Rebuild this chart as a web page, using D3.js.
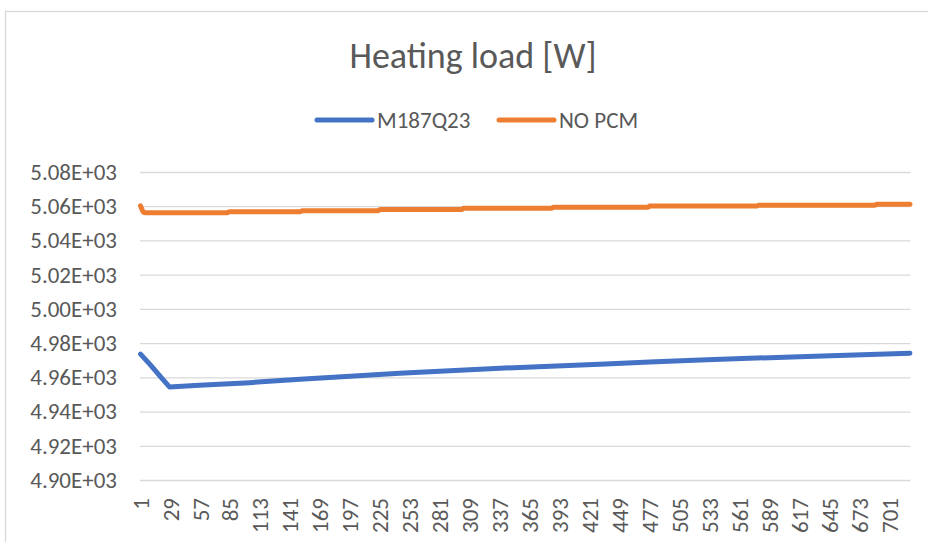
<!DOCTYPE html>
<html>
<head>
<meta charset="utf-8">
<script src="https://cdn.jsdelivr.net/npm/d3@7"></script>
<style>
  body { margin: 0; background: #fff; }
  text { font-family: Calibri, Carlito, Lato, sans-serif; fill: #595959; }
</style>
</head>
<body>
<div id="chart"></div>
<script>
// categories 1..720 (hours)
var nCategories = 720;
var xTickLabels = d3.range(1, 721, 28);   // 1, 29, 57, ... 701
var yTicks = [4900, 4920, 4940, 4960, 4980, 5000, 5020, 5040, 5060, 5080];

// M187Q23 at sample hours
var m187Hours  = [1, 10, 20, 28, 56, 103, 150, 197, 243, 290, 337, 384, 430, 477, 524, 570, 617, 668, 720];
var m187Values = [4973.6, 4967.4, 4960.1, 4954.4, 4955.4, 4956.9, 4958.9, 4960.7, 4962.4, 4963.9,
                  4965.3, 4966.5, 4967.6, 4968.9, 4970.1, 4971.1, 4972.1, 4973.1, 4974.1];

// NO PCM is a staircase
var noPcmHours  = [1, 2, 3, 4, 5, 82, 84, 150, 152, 223, 225, 301, 303, 385, 387, 475, 477, 577, 579, 687, 689, 720];
var noPcmValues = [5060.2, 5058.6, 5057.2, 5056.4, 5056.2, 5056.2, 5056.8, 5056.8, 5057.4, 5057.4, 5058.1,
                   5058.1, 5058.8, 5058.8, 5059.4, 5059.4, 5060.1, 5060.1, 5060.6, 5060.6, 5061.1, 5061.1];

var seriesNames = ['M187Q23', 'NO PCM'];
var seriesColors = ['#4472C4', '#ED7D31'];

var W = 928, H = 542;
var plot = { left: 140, right: 910.5, top: 172, bottom: 480 };
var labelSize = 23;

var svg = d3.select('#chart').append('svg')
    .attr('width', W)
    .attr('height', H);

// chart area border
svg.append('rect')
    .attr('x', 5.5).attr('y', 11.5)
    .attr('width', 960).attr('height', 600)
    .attr('fill', '#fff')
    .attr('stroke', '#d9d9d9')
    .attr('stroke-width', 1.3);

var x = d3.scaleBand()
    .domain(d3.range(1, nCategories + 1))
    .range([plot.left, plot.right])
    .padding(0);
var xc = function(d) { return x(d) + x.bandwidth() / 2; };

var y = d3.scaleLinear()
    .domain([4900, 5080])
    .range([plot.bottom, plot.top]);

// gridlines + y labels
var yAxis = svg.append('g')
    .attr('transform', 'translate(' + plot.left + ',0)')
    .call(d3.axisLeft(y)
        .tickValues(yTicks)
        .tickSize(-(plot.right - plot.left))
        .tickPadding(23)
        .tickFormat(function(d) { return (d / 1000).toFixed(2) + 'E+03'; }));
yAxis.select('.domain').remove();
yAxis.selectAll('line').attr('stroke', '#d9d9d9').attr('stroke-width', 1.3);
yAxis.selectAll('text')
    .attr('font-size', labelSize)
    .attr('fill', '#595959')
    .style('font-family', 'Calibri, Carlito, Lato, sans-serif');

// x labels, rotated
var xAxis = svg.append('g')
    .attr('transform', 'translate(0,' + plot.bottom + ')')
    .call(d3.axisBottom(x).tickValues(xTickLabels).tickSize(0).tickPadding(0));
xAxis.select('.domain').remove();
xAxis.selectAll('text')
    .attr('transform', 'translate(0,18) rotate(-90)')
    .attr('x', 0).attr('y', 0).attr('dy', '0.35em')
    .style('text-anchor', 'end')
    .attr('font-size', labelSize)
    .attr('fill', '#595959')
    .style('font-family', 'Calibri, Carlito, Lato, sans-serif');

var line = d3.line()
    .x(function(d) { return xc(d[0]); })
    .y(function(d) { return y(d[1]); });

var series = [
  d3.zip(m187Hours, m187Values),
  d3.zip(noPcmHours, noPcmValues)
];

series.forEach(function(pts, i) {
  svg.append('path')
      .datum(pts)
      .attr('d', line)
      .attr('fill', 'none')
      .attr('stroke', seriesColors[i])
      .attr('stroke-width', 5)
      .attr('stroke-linejoin', 'round')
      .attr('stroke-linecap', 'round');
});

// title
svg.append('text')
    .attr('x', 473).attr('y', 68)
    .attr('text-anchor', 'middle')
    .attr('font-size', 36)
    .text('Heating load [W]');

// legend
var legendX = [317, 499];
seriesNames.forEach(function(name, i) {
  var g = svg.append('g').attr('transform', 'translate(' + legendX[i] + ',120)');
  g.append('line')
      .attr('x1', 0).attr('x2', 55)
      .attr('stroke', seriesColors[i])
      .attr('stroke-width', 5)
      .attr('stroke-linecap', 'round');
  g.append('text')
      .attr('x', 60).attr('y', 8)
      .attr('font-size', labelSize)
      .text(name);
});
</script>
</body>
</html>
